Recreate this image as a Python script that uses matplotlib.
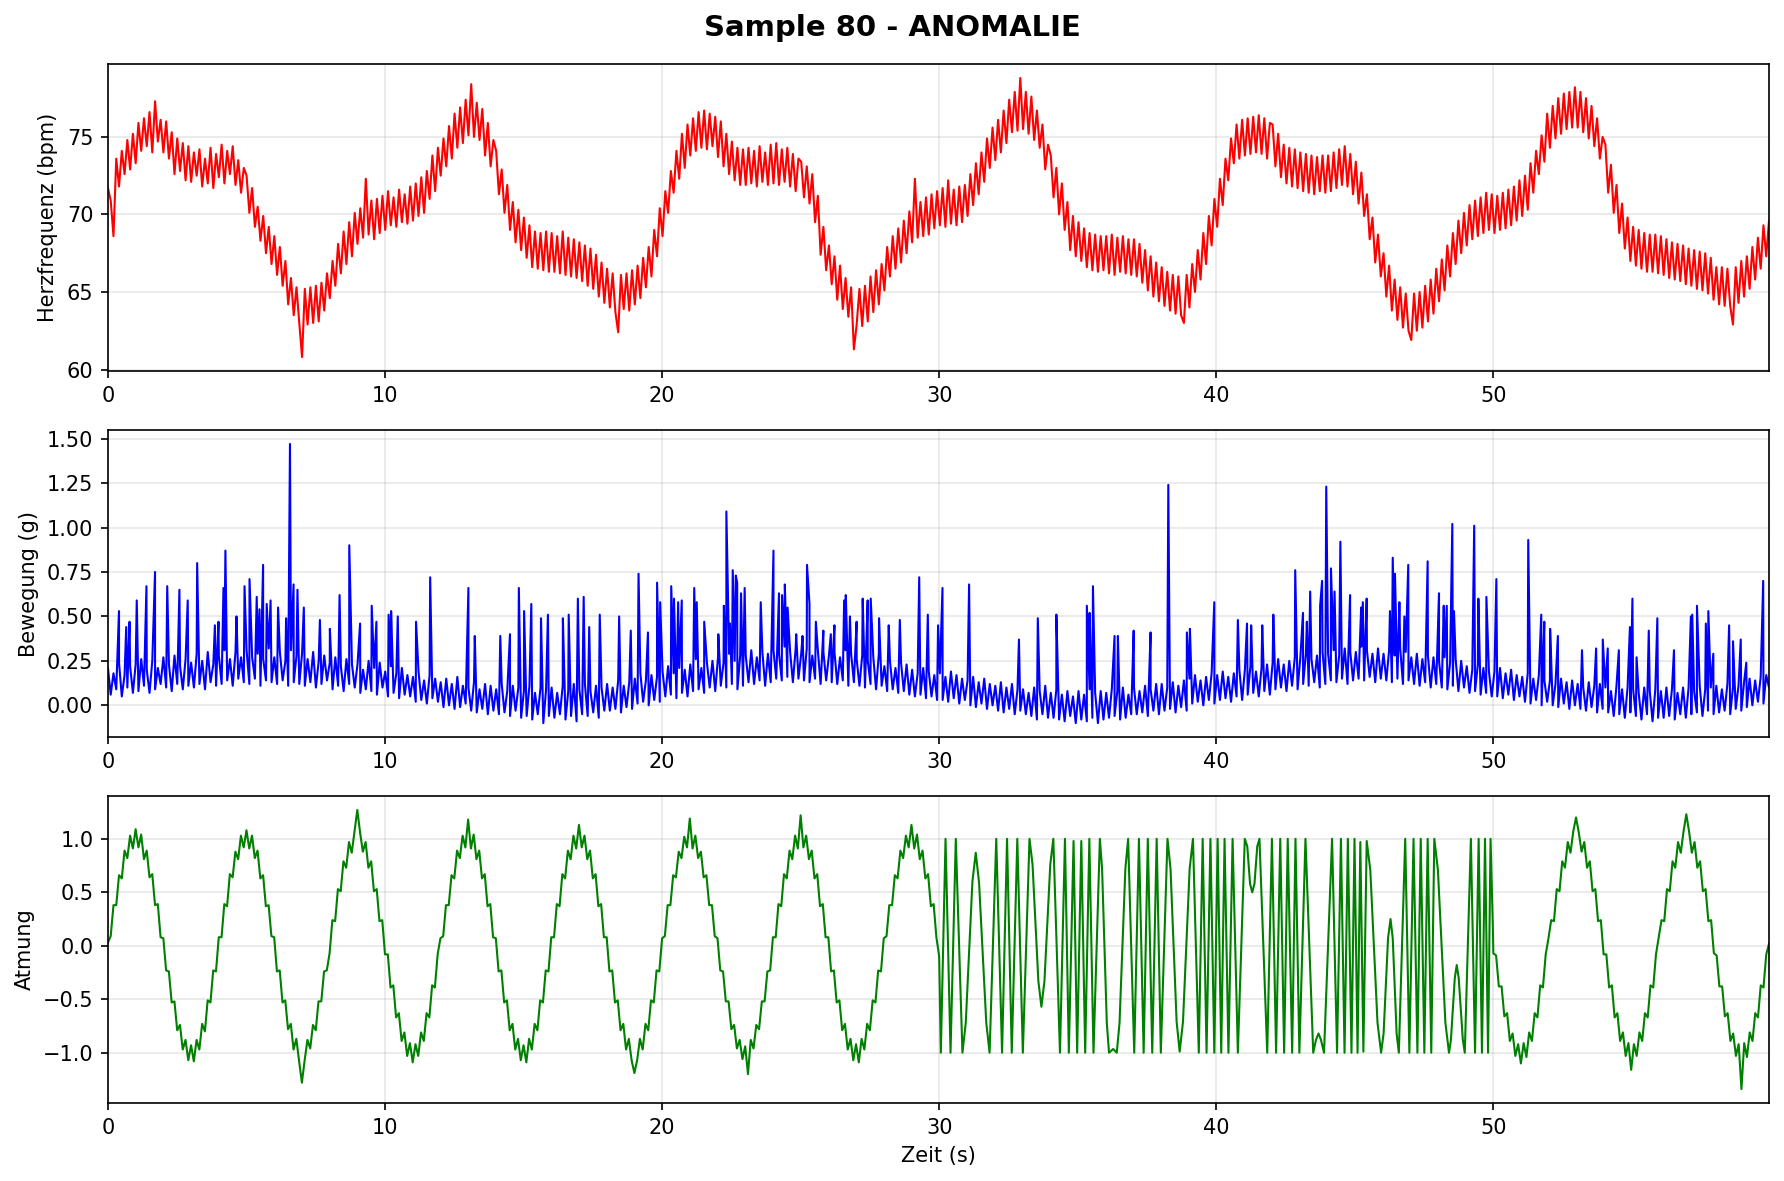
import numpy as np
import matplotlib.pyplot as plt

T_END = 59.95

herz = [
    71.7, 70.9, 68.6, 73.6, 71.8, 74.1, 72.6, 74.8, 72.9, 75.2,
    73.3, 75.9, 74.1, 76.2, 74.4, 76.6, 74.0, 77.3, 74.7, 76.1,
    74.0, 76.0, 73.6, 75.3, 72.6, 74.9, 72.8, 74.6, 72.2, 74.4,
    72.1, 74.0, 72.5, 74.2, 71.8, 73.6, 72.0, 74.3, 71.7, 73.9,
    72.4, 74.5, 72.0, 74.1, 72.6, 74.4, 71.9, 73.5, 71.4, 73.0,
    72.5, 70.1, 71.7, 69.2, 70.5, 68.3, 69.9, 67.5, 69.2, 66.8,
    68.6, 66.1, 67.9, 65.4, 67.0, 64.2, 65.9, 63.5, 65.3, 63.0,
    60.8, 65.2, 62.9, 65.3, 63.0, 65.4, 63.1, 65.6, 63.8, 66.2,
    64.6, 67.0, 65.4, 68.1, 66.2, 68.9, 66.8, 69.5, 67.3, 70.1,
    68.1, 70.4, 68.5, 72.3, 68.7, 70.9, 68.4, 71.0, 68.8, 71.2,
    69.0, 71.5, 69.3, 71.1, 69.2, 71.6, 69.5, 71.3, 69.4, 71.8,
    69.6, 72.0, 69.9, 72.4, 70.1, 72.8, 71.0, 73.8, 71.5, 74.3,
    72.5, 74.9, 73.1, 75.7, 73.6, 76.5, 74.3, 76.9, 74.6, 77.4,
    75.1, 78.4, 75.0, 77.2, 74.8, 76.8, 73.8, 75.9, 73.1, 74.8,
    74.1, 71.3, 72.9, 70.1, 71.9, 69.0, 70.8, 68.2, 70.3, 67.7,
    69.8, 67.2, 69.3, 66.6, 68.9, 66.5, 68.8, 66.4, 68.9, 66.3,
    68.8, 66.3, 68.6, 66.2, 68.9, 66.1, 68.5, 66.0, 68.4, 65.9,
    68.2, 65.7, 68.0, 65.4, 67.8, 65.2, 67.4, 64.7, 66.9, 64.3,
    66.5, 64.0, 66.2, 63.7, 62.4, 66.1, 63.9, 66.2, 63.8, 66.4,
    64.2, 66.7, 64.6, 67.2, 65.3, 67.9, 66.0, 69.0, 67.3, 70.4,
    68.6, 71.5, 70.1, 72.8, 71.4, 74.1, 72.3, 75.2, 73.0, 75.8,
    73.8, 76.2, 74.1, 76.6, 74.3, 76.7, 74.2, 76.5, 74.4, 76.3,
    73.7, 76.0, 73.1, 75.2, 72.6, 74.7, 72.2, 74.3, 71.9, 74.2,
    71.9, 74.3, 72.0, 74.1, 71.8, 74.4, 72.1, 74.0, 71.9, 74.5,
    72.0, 74.6, 71.9, 74.2, 72.1, 74.3, 71.8, 73.9, 71.5, 73.6,
    73.4, 71.1, 73.1, 70.7, 72.6, 69.5, 71.2, 67.4, 69.2, 66.4,
    68.0, 65.5, 67.3, 64.5, 66.7, 63.9, 65.9, 63.4, 65.3, 61.3,
    62.9, 65.2, 62.8, 65.4, 63.1, 66.0, 63.7, 66.4, 64.2, 66.8,
    65.1, 67.9, 66.0, 68.6, 66.5, 69.1, 66.9, 69.6, 67.5, 70.2,
    68.2, 72.3, 68.5, 70.8, 68.6, 71.1, 68.7, 71.3, 69.1, 71.5,
    69.3, 71.7, 69.2, 72.2, 69.4, 71.6, 69.3, 71.8, 69.5, 71.9,
    69.9, 72.6, 70.6, 73.3, 71.3, 74.0, 72.1, 74.9, 73.0, 75.6,
    73.5, 76.1, 74.0, 76.7, 74.6, 77.4, 75.3, 77.9, 75.4, 78.8,
    75.5, 77.9, 75.2, 77.6, 74.8, 76.7, 74.3, 75.8, 72.9, 74.5,
    73.8, 71.1, 73.0, 70.0, 72.0, 69.0, 70.8, 67.7, 69.9, 67.3,
    69.5, 67.0, 69.1, 66.6, 68.8, 66.4, 68.7, 66.3, 68.6, 66.4,
    68.6, 66.2, 68.7, 66.1, 68.5, 66.3, 68.6, 66.2, 68.4, 66.1,
    68.4, 66.0, 68.1, 65.6, 67.7, 65.1, 67.3, 64.7, 66.9, 64.4,
    66.6, 64.1, 66.3, 63.8, 66.1, 63.6, 66.0, 63.5, 63.0, 66.1,
    64.0, 66.8, 65.0, 67.7, 65.8, 68.8, 66.8, 69.9, 68.0, 71.0,
    69.2, 72.3, 70.6, 73.6, 72.2, 74.9, 73.3, 75.8, 73.6, 76.1,
    73.8, 76.2, 73.9, 76.3, 74.0, 76.4, 73.9, 76.2, 73.6, 75.9,
    75.8, 73.1, 75.2, 72.4, 74.5, 72.0, 74.3, 71.8, 74.2, 71.7,
    74.0, 71.5, 73.9, 71.4, 73.8, 71.3, 73.7, 71.5, 73.8, 71.4,
    73.8, 71.5, 74.0, 71.7, 74.2, 71.9, 74.4, 71.8, 73.9, 71.3,
    73.4, 70.7, 72.7, 69.9, 71.3, 68.4, 69.8, 66.9, 68.7, 66.0,
    67.5, 64.7, 66.7, 63.8, 65.8, 63.2, 65.3, 62.7, 64.9, 62.5,
    61.9, 64.9, 62.5, 65.0, 62.7, 65.4, 63.1, 65.8, 63.6, 66.5,
    64.4, 67.1, 65.1, 68.0, 66.0, 68.8, 66.8, 69.6, 67.5, 70.1,
    68.0, 70.6, 68.4, 70.9, 68.6, 71.1, 68.8, 71.4, 69.0, 71.3,
    68.8, 71.2, 69.0, 71.4, 69.1, 71.6, 69.3, 71.8, 69.6, 72.2,
    69.9, 72.5, 70.3, 73.3, 71.4, 74.1, 72.6, 75.1, 73.4, 76.5,
    74.3, 77.0, 74.9, 77.5, 75.2, 77.8, 75.5, 77.9, 75.6, 78.2,
    75.6, 77.9, 75.3, 77.5, 74.9, 77.0, 74.4, 76.2, 73.6, 75.0,
    74.5, 71.4, 73.2, 70.1, 71.9, 68.8, 70.7, 67.8, 69.8, 67.0,
    69.2, 66.7, 69.0, 66.5, 68.8, 66.3, 68.7, 66.3, 68.7, 66.2,
    68.6, 66.1, 68.4, 65.9, 68.2, 65.8, 68.1, 65.7, 68.0, 65.5,
    67.8, 65.4, 67.7, 65.2, 67.6, 65.1, 67.5, 64.9, 67.2, 64.5,
    66.6, 64.2, 66.6, 64.1, 66.5, 64.1, 62.9, 66.6, 64.3, 67.0,
    64.7, 67.3, 65.2, 67.9, 65.8, 68.5, 66.5, 69.3, 67.3, 69.6,
]

# Bewegung (g): Grundrauschen alle ~0.1 s
bewegung_basis = [
    0.21, 0.06, 0.18, 0.09, 0.24, 0.05, 0.17, 0.10, 0.22, 0.07,
    0.23, 0.08, 0.26, 0.11, 0.20, 0.07, 0.25, 0.09, 0.21, 0.12,
    0.27, 0.10, 0.23, 0.08, 0.28, 0.12, 0.22, 0.09, 0.26, 0.11,
    0.24, 0.10, 0.29, 0.12, 0.25, 0.09, 0.30, 0.13, 0.23, 0.11,
    0.28, 0.12, 0.31, 0.14, 0.26, 0.11, 0.30, 0.15, 0.27, 0.13,
    0.31, 0.12, 0.27, 0.15, 0.29, 0.11, 0.26, 0.14, 0.32, 0.13,
    0.27, 0.12, 0.30, 0.14, 0.25, 0.11, 0.31, 0.13, 0.28, 0.12,
    0.29, 0.11, 0.26, 0.13, 0.30, 0.10, 0.25, 0.12, 0.28, 0.14,
    0.24, 0.09, 0.27, 0.11, 0.22, 0.08, 0.26, 0.12, 0.23, 0.10,
    0.23, 0.07, 0.20, 0.09, 0.25, 0.08, 0.21, 0.06, 0.24, 0.10,
    0.19, 0.05, 0.22, 0.07, 0.18, 0.04, 0.21, 0.06, 0.17, 0.05,
    0.16, 0.02, 0.19, 0.03, 0.14, 0.01, 0.17, 0.04, 0.15, 0.02,
    0.13, -0.01, 0.15, 0.00, 0.12, -0.02, 0.16, -0.01, 0.11, 0.01,
    0.10, -0.03, 0.13, -0.04, 0.09, -0.02, 0.12, -0.05, 0.11, -0.03,
    0.09, -0.05, 0.12, -0.04, 0.08, -0.06, 0.11, -0.03, 0.10, -0.07,
    0.08, -0.06, 0.11, -0.08, 0.07, -0.05, 0.10, -0.10, 0.09, -0.06,
    0.10, -0.07, 0.07, -0.05, 0.11, -0.08, 0.08, -0.06, 0.12, -0.09,
    0.09, -0.05, 0.12, -0.06, 0.08, -0.04, 0.11, -0.07, 0.10, -0.03,
    0.12, -0.03, 0.10, -0.02, 0.14, -0.04, 0.11, -0.01, 0.13, -0.02,
    0.15, 0.01, 0.18, 0.02, 0.14, 0.00, 0.17, 0.03, 0.16, 0.02,
    0.19, 0.05, 0.22, 0.06, 0.18, 0.04, 0.21, 0.07, 0.20, 0.05,
    0.23, 0.08, 0.26, 0.09, 0.21, 0.07, 0.24, 0.10, 0.25, 0.08,
    0.27, 0.11, 0.24, 0.10, 0.29, 0.12, 0.25, 0.09, 0.28, 0.11,
    0.28, 0.13, 0.31, 0.12, 0.27, 0.14, 0.30, 0.11, 0.29, 0.13,
    0.31, 0.15, 0.29, 0.14, 0.33, 0.16, 0.30, 0.13, 0.32, 0.15,
    0.29, 0.14, 0.32, 0.13, 0.28, 0.15, 0.31, 0.12, 0.30, 0.14,
    0.28, 0.13, 0.30, 0.12, 0.27, 0.14, 0.31, 0.11, 0.29, 0.13,
    0.26, 0.11, 0.28, 0.10, 0.25, 0.12, 0.27, 0.09, 0.29, 0.11,
    0.22, 0.08, 0.25, 0.09, 0.21, 0.07, 0.24, 0.08, 0.23, 0.06,
    0.20, 0.05, 0.18, 0.06, 0.21, 0.04, 0.19, 0.05, 0.17, 0.03,
    0.18, 0.03, 0.16, 0.02, 0.19, 0.04, 0.17, 0.01, 0.15, 0.03,
    0.14, 0.00, 0.16, -0.01, 0.13, 0.01, 0.15, -0.02, 0.12, 0.00,
    0.11, -0.03, 0.13, -0.04, 0.10, -0.02, 0.12, -0.05, 0.09, -0.03,
    0.09, -0.05, 0.07, -0.06, 0.10, -0.08, 0.08, -0.05, 0.11, -0.07,
    0.07, -0.07, 0.09, -0.08, 0.06, -0.09, 0.08, -0.06, 0.05, -0.10,
    0.08, -0.08, 0.06, -0.09, 0.09, -0.07, 0.07, -0.10, 0.08, -0.08,
    0.07, -0.07, 0.09, -0.06, 0.08, -0.08, 0.10, -0.07, 0.06, -0.05,
    0.10, -0.05, 0.08, -0.04, 0.11, -0.06, 0.09, -0.03, 0.12, -0.05,
    0.12, -0.03, 0.10, -0.02, 0.13, -0.04, 0.11, -0.01, 0.14, -0.03,
    0.15, 0.01, 0.17, 0.02, 0.14, 0.00, 0.16, 0.03, 0.18, 0.01,
    0.17, 0.03, 0.19, 0.04, 0.16, 0.02, 0.18, 0.05, 0.20, 0.03,
    0.20, 0.06, 0.22, 0.07, 0.19, 0.05, 0.21, 0.08, 0.23, 0.06,
    0.24, 0.09, 0.26, 0.10, 0.23, 0.08, 0.25, 0.11, 0.27, 0.09,
    0.27, 0.12, 0.29, 0.11, 0.26, 0.13, 0.28, 0.10, 0.30, 0.12,
    0.29, 0.14, 0.31, 0.13, 0.28, 0.15, 0.32, 0.12, 0.30, 0.14,
    0.30, 0.15, 0.33, 0.14, 0.31, 0.16, 0.29, 0.13, 0.32, 0.15,
    0.29, 0.14, 0.31, 0.13, 0.28, 0.15, 0.32, 0.12, 0.30, 0.14,
    0.27, 0.12, 0.29, 0.11, 0.26, 0.13, 0.28, 0.10, 0.27, 0.12,
    0.25, 0.10, 0.27, 0.09, 0.24, 0.11, 0.26, 0.08, 0.25, 0.10,
    0.22, 0.07, 0.20, 0.08, 0.23, 0.06, 0.21, 0.07, 0.19, 0.05,
    0.19, 0.05, 0.21, 0.04, 0.18, 0.06, 0.20, 0.03, 0.17, 0.05,
    0.16, 0.02, 0.18, 0.01, 0.15, 0.03, 0.17, 0.00, 0.14, 0.02,
    0.14, 0.00, 0.12, -0.01, 0.15, 0.01, 0.13, -0.02, 0.14, 0.00,
    0.12, -0.02, 0.10, -0.03, 0.13, -0.01, 0.11, -0.04, 0.12, -0.02,
    0.10, -0.04, 0.08, -0.06, 0.11, -0.05, 0.09, -0.07, 0.10, -0.04,
    0.09, -0.06, 0.07, -0.08, 0.10, -0.05, 0.08, -0.09, 0.09, -0.07,
    0.08, -0.07, 0.10, -0.06, 0.09, -0.08, 0.07, -0.05, 0.10, -0.07,
    0.10, -0.05, 0.08, -0.04, 0.11, -0.06, 0.09, -0.03, 0.10, -0.05,
    0.11, -0.04, 0.09, -0.03, 0.12, -0.05, 0.10, -0.02, 0.11, -0.03,
    0.13, -0.01, 0.15, 0.00, 0.14, 0.02, 0.16, 0.01, 0.17, 0.10,
]

# Bewegung: einzelne Spitzen (Zeit, Wert)
spitzen_t = [
    0.40, 0.66, 0.78, 1.04, 1.39, 1.70, 2.14, 2.58, 2.88, 3.22,
    3.86, 3.99, 4.17, 4.24, 4.64, 4.93, 5.11, 5.37, 5.47, 5.60,
    5.73, 5.87, 6.14, 6.43, 6.57, 6.70, 6.84, 7.07, 7.65, 8.01,
    8.36, 8.71, 9.10, 9.52, 9.69, 10.13, 10.22, 10.46, 11.12, 11.63,
    13.01, 13.24, 14.16, 14.51, 14.83, 15.02, 15.28, 15.63, 15.88, 16.42,
    16.63, 16.96, 17.17, 17.37, 17.75, 18.45, 18.87, 19.15, 19.49, 19.82,
    19.93, 20.33, 20.43, 20.58, 20.71, 21.16, 21.25, 21.52, 22.03, 22.23,
    22.32, 22.45, 22.55, 22.66, 22.71, 22.85, 22.98, 23.56, 24.02, 24.22,
    24.33, 24.43, 24.53, 24.84, 25.07, 25.23, 25.32, 25.55, 25.82, 26.09,
    26.22, 26.57, 26.63, 26.78, 27.02, 27.24, 27.42, 27.53, 27.83, 28.18,
    28.58, 29.28, 29.59, 29.96, 30.12, 31.08, 32.88, 33.56, 34.23, 35.33,
    35.43, 35.55, 36.33, 36.45, 37.02, 37.63, 38.27, 38.94, 39.05, 39.93,
    40.78, 41.11, 41.26, 41.66, 42.06, 42.85, 43.13, 43.27, 43.39, 43.75,
    43.82, 43.97, 44.14, 44.27, 44.48, 44.83, 45.23, 45.29, 45.43, 46.27,
    46.37, 46.45, 46.61, 46.79, 46.93, 47.63, 48.04, 48.21, 48.32, 48.52,
    48.58, 49.31, 49.46, 49.75, 50.11, 51.26, 51.73, 51.84, 52.05, 52.33,
    53.20, 53.71, 53.95, 54.13, 54.53, 54.93, 55.02, 55.17, 55.61, 55.92,
    56.52, 57.13, 57.18, 57.35, 57.67, 57.76, 57.94, 58.51, 58.65, 58.93,
    59.13, 59.74,
]
spitzen_v = [
    0.53, 0.44, 0.47, 0.59, 0.67, 0.75, 0.67, 0.65, 0.59, 0.80,
    0.45, 0.47, 0.66, 0.87, 0.50, 0.67, 0.71, 0.61, 0.54, 0.79,
    0.57, 0.59, 0.55, 0.49, 1.47, 0.68, 0.65, 0.55, 0.48, 0.43,
    0.62, 0.90, 0.46, 0.56, 0.47, 0.51, 0.53, 0.50, 0.47, 0.72,
    0.66, 0.39, 0.39, 0.40, 0.66, 0.53, 0.57, 0.49, 0.51, 0.49,
    0.51, 0.60, 0.61, 0.44, 0.51, 0.50, 0.42, 0.74, 0.41, 0.69,
    0.58, 0.67, 0.60, 0.58, 0.59, 0.66, 0.58, 0.47, 0.40, 0.56,
    1.09, 0.46, 0.76, 0.73, 0.69, 0.63, 0.66, 0.58, 0.87, 0.63,
    0.62, 0.68, 0.55, 0.40, 0.39, 0.79, 0.57, 0.47, 0.42, 0.40,
    0.45, 0.59, 0.62, 0.50, 0.47, 0.60, 0.59, 0.60, 0.49, 0.45,
    0.48, 0.72, 0.51, 0.45, 0.66, 0.68, 0.37, 0.49, 0.51, 0.56,
    0.52, 0.67, 0.39, 0.39, 0.42, 0.41, 1.24, 0.41, 0.43, 0.58,
    0.48, 0.46, 0.45, 0.45, 0.51, 0.76, 0.52, 0.47, 0.64, 0.56,
    0.70, 1.23, 0.77, 0.64, 0.92, 0.62, 0.55, 0.58, 0.60, 0.53,
    0.83, 0.74, 0.58, 0.50, 0.79, 0.81, 0.63, 0.56, 0.56, 1.02,
    0.53, 1.01, 0.60, 0.61, 0.71, 0.93, 0.51, 0.47, 0.43, 0.39,
    0.31, 0.32, 0.37, 0.32, 0.31, 0.44, 0.60, 0.27, 0.42, 0.49,
    0.31, 0.50, 0.51, 0.56, 0.46, 0.53, 0.29, 0.45, 0.36, 0.37,
    0.24, 0.70,
]

# Atmung: normaler Abschnitt 0-29.9 s (alle 0.1 s)
atmung_1 = [
    0.03, 0.09, 0.38, 0.38, 0.66, 0.63, 0.89, 0.82, 1.03, 0.91,
    1.09, 0.92, 1.04, 0.81, 0.89, 0.64, 0.67, 0.38, 0.39, 0.08,
    0.07, -0.23, -0.24, -0.53, -0.52, -0.79, -0.74, -0.97, -0.88, -1.07,
    -0.93, -1.08, -0.88, -0.97, -0.73, -0.80, -0.51, -0.53, -0.23, -0.24,
    0.08, 0.08, 0.39, 0.37, 0.67, 0.64, 0.88, 0.81, 1.03, 0.92,
    1.08, 0.91, 1.03, 0.82, 0.89, 0.63, 0.66, 0.37, 0.38, 0.09,
    0.08, -0.24, -0.23, -0.53, -0.51, -0.78, -0.73, -0.97, -0.87, -1.08,
    -1.28, -1.07, -0.88, -0.96, -0.74, -0.79, -0.52, -0.52, -0.24, -0.23,
    -0.07, 0.24, 0.23, 0.53, 0.51, 0.79, 0.73, 0.97, 0.87, 1.07,
    1.27, 1.06, 0.88, 0.97, 0.73, 0.79, 0.51, 0.53, 0.23, 0.24,
    -0.08, -0.08, -0.39, -0.37, -0.67, -0.63, -0.89, -0.81, -1.03, -0.91,
    -1.09, -0.92, -1.03, -0.81, -0.89, -0.63, -0.67, -0.37, -0.39, -0.08,
    0.07, 0.09, 0.38, 0.38, 0.66, 0.63, 0.89, 0.82, 1.03, 0.92,
    1.18, 0.91, 1.04, 0.81, 0.89, 0.63, 0.67, 0.37, 0.39, 0.08,
    0.07, -0.24, -0.23, -0.53, -0.51, -0.79, -0.73, -0.97, -0.87, -1.07,
    -0.93, -1.09, -0.87, -0.97, -0.73, -0.79, -0.51, -0.53, -0.23, -0.24,
    0.08, 0.08, 0.39, 0.37, 0.67, 0.63, 0.89, 0.81, 1.03, 0.91,
    1.13, 0.92, 1.03, 0.81, 0.89, 0.63, 0.67, 0.37, 0.39, 0.08,
    0.08, -0.24, -0.23, -0.53, -0.51, -0.79, -0.73, -0.97, -0.87, -1.07,
    -1.19, -1.07, -0.87, -0.97, -0.73, -0.79, -0.51, -0.53, -0.23, -0.24,
    0.07, 0.09, 0.38, 0.38, 0.66, 0.64, 0.88, 0.82, 1.02, 0.92,
    1.19, 0.91, 1.03, 0.82, 0.88, 0.64, 0.66, 0.38, 0.38, 0.09,
    0.07, -0.23, -0.24, -0.52, -0.52, -0.78, -0.74, -0.96, -0.88, -1.06,
    -0.94, -1.20, -0.88, -0.96, -0.74, -0.78, -0.52, -0.52, -0.24, -0.23,
    0.08, 0.08, 0.39, 0.37, 0.67, 0.63, 0.89, 0.81, 1.03, 0.91,
    1.22, 0.92, 1.03, 0.81, 0.89, 0.63, 0.67, 0.37, 0.39, 0.08,
    0.08, -0.24, -0.23, -0.53, -0.51, -0.79, -0.73, -0.97, -0.87, -1.07,
    -0.92, -1.09, -0.87, -0.97, -0.73, -0.79, -0.51, -0.53, -0.23, -0.24,
    0.07, 0.09, 0.38, 0.38, 0.66, 0.63, 0.89, 0.82, 1.03, 0.92,
    1.13, 0.91, 1.04, 0.81, 0.89, 0.63, 0.67, 0.37, 0.39, 0.08,
]

# Atmung: Anomalie 30-50 s (Umkehrpunkte)
anomalie_t = [
    30.00, 30.06, 30.23, 30.41, 30.60, 30.84, 30.96, 31.20, 31.32, 31.44,
    31.70, 31.82, 32.06, 32.27, 32.45, 32.62, 32.82, 33.02, 33.26, 33.37,
    33.58, 33.69, 33.80, 34.01, 34.12, 34.36, 34.54, 34.68, 34.85, 34.98,
    35.13, 35.27, 35.42, 35.57, 35.80, 35.88, 36.05, 36.13, 36.28, 36.41,
    36.51, 36.72, 36.82, 37.04, 37.21, 37.38, 37.53, 37.69, 37.85, 38.00,
    38.24, 38.35, 38.57, 38.68, 38.80, 39.04, 39.16, 39.37, 39.51, 39.65,
    39.79, 39.93, 40.05, 40.18, 40.30, 40.44, 40.59, 40.78, 41.03, 41.12,
    41.22, 41.30, 41.38, 41.48, 41.56, 41.84, 42.01, 42.16, 42.31, 42.45,
    42.58, 42.74, 42.86, 43.00, 43.22, 43.50, 43.60, 43.69, 43.78, 43.89,
    44.18, 44.36, 44.50, 44.63, 44.75, 44.88, 44.99, 45.10, 45.20, 45.31,
    45.43, 45.56, 45.82, 45.95, 46.04, 46.20, 46.29, 46.37, 46.51, 46.59,
    46.82, 46.97, 47.12, 47.26, 47.38, 47.51, 47.63, 47.76, 47.87, 48.00,
    48.27, 48.40, 48.47, 48.61, 48.68, 48.75, 48.90, 48.97, 49.19, 49.34,
    49.47, 49.59, 49.70, 49.81, 49.90, 49.99,
]
anomalie_v = [
    -0.10, -1.00, 1.00, -1.00, 1.00, -1.00, -0.72, 0.60, 0.87, 0.59,
    -0.72, -1.00, 1.00, -1.00, 1.00, -1.00, 1.00, -1.00, 1.00, 0.76,
    -0.33, -0.57, -0.33, 0.76, 1.00, -1.00, 1.00, -1.00, 0.98, -1.00,
    0.98, -1.00, 1.00, -1.00, 1.00, 0.72, -0.72, -1.00, -0.965, -1.00,
    -0.72, 0.72, 1.00, -1.00, 1.00, -1.00, 1.00, -1.00, 1.00, -1.00,
    1.00, 0.72, -0.71, -0.99, -0.71, 0.72, 1.00, -1.00, 1.00, -1.00,
    1.00, -1.00, 1.00, -1.00, 1.00, -1.00, 1.00, -1.00, 1.00, 0.93,
    0.58, 0.50, 0.58, 0.93, 1.00, -1.00, 1.00, -1.00, 1.00, -1.00,
    1.00, -1.00, 1.00, -1.00, 1.00, -1.00, -0.88, -0.82, -0.88, -1.00,
    1.00, -1.00, 1.00, -1.00, 1.00, -1.00, 1.00, -1.00, 0.97, -0.99,
    0.98, 0.71, -0.72, -1.00, -0.82, 0.07, 0.25, 0.07, -0.82, -1.00,
    1.00, -1.00, 1.00, -1.00, 1.00, -1.00, 1.00, -1.00, 1.00, 0.71,
    -0.72, -1.00, -0.88, -0.30, -0.18, -0.30, -0.88, -1.00, 1.00, -1.00,
    1.00, -1.00, 1.00, -1.00, 1.00, 0.10,
]

# Atmung: normaler Abschnitt 50 s bis Ende (alle ~0.1 s)
atmung_2 = [
    -0.07, -0.09, -0.38, -0.38, -0.66, -0.63, -0.89, -0.82, -1.03, -0.92,
    -1.10, -0.91, -1.04, -0.81, -0.89, -0.63, -0.67, -0.37, -0.39, -0.08,
    0.07, 0.24, 0.23, 0.53, 0.51, 0.79, 0.73, 0.97, 0.87, 1.07,
    1.20, 1.06, 0.88, 0.97, 0.73, 0.79, 0.51, 0.53, 0.23, 0.24,
    -0.08, -0.08, -0.39, -0.37, -0.67, -0.63, -0.89, -0.81, -1.03, -0.91,
    -1.16, -0.92, -1.03, -0.81, -0.89, -0.63, -0.67, -0.37, -0.39, -0.08,
    0.08, 0.24, 0.23, 0.53, 0.51, 0.79, 0.73, 0.97, 0.87, 1.07,
    1.23, 1.07, 0.87, 0.97, 0.73, 0.79, 0.51, 0.53, 0.23, 0.24,
    -0.07, -0.09, -0.38, -0.38, -0.66, -0.63, -0.89, -0.82, -1.03, -0.92,
    -1.34, -0.91, -1.04, -0.81, -0.89, -0.63, -0.67, -0.37, -0.39, -0.08,
    0.02,
]

t_herz = np.linspace(0, T_END, len(herz))

t_bew = np.concatenate([np.linspace(0, T_END, len(bewegung_basis)), spitzen_t])
v_bew = np.concatenate([bewegung_basis, spitzen_v])
order = np.argsort(t_bew, kind='stable')
t_bew, v_bew = t_bew[order], v_bew[order]

t_atm = np.concatenate([np.arange(len(atmung_1)) * 0.1, anomalie_t,
                        np.linspace(50, T_END, len(atmung_2))])
v_atm = np.concatenate([atmung_1, anomalie_v, atmung_2])

fig, axes = plt.subplots(3, 1, figsize=(1784 / 150, 1181 / 150), dpi=150)
fig.subplots_adjust(left=0.0605, right=0.9916, top=0.9458, bottom=0.066, hspace=0.192)
fig.suptitle('Sample 80 - ANOMALIE', fontsize=14, fontweight='bold', y=0.988)

axes[0].plot(t_herz, herz, color='red', linewidth=1)
axes[0].set_ylabel('Herzfrequenz (bpm)')

axes[1].plot(t_bew, v_bew, color='blue', linewidth=1)
axes[1].set_ylabel('Bewegung (g)')

axes[2].plot(t_atm, v_atm, color='green', linewidth=1)
axes[2].set_ylabel('Atmung')
axes[2].set_xlabel('Zeit (s)')

for ax in axes:
    ax.set_xlim(0, T_END)
    ax.grid(True, alpha=0.3)

fig.savefig('out.png', dpi=150)
